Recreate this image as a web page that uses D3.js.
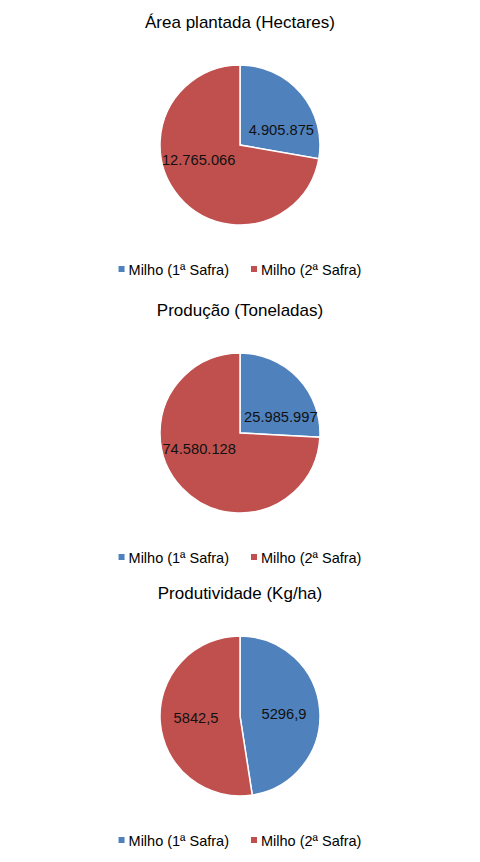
<!DOCTYPE html>
<html>
<head>
<meta charset="utf-8">
<script src="https://cdn.jsdelivr.net/npm/d3@7"></script>
<style>
  html, body { margin: 0; padding: 0; background: #fff; }
  svg { display: block; font-family: "Liberation Sans", Arial, sans-serif; }
</style>
</head>
<body>
<svg id="chart" width="480" height="862"></svg>
<script>
// ---- data ----
const categories = ["Milho (1ª Safra)", "Milho (2ª Safra)"];
const chartTitles = ["Área plantada (Hectares)", "Produção (Toneladas)", "Produtividade (Kg/ha)"];
const areaValues = [4905875, 12765066];
const producaoValues = [25985997, 74580128];
const produtividadeValues = [5296.9, 5842.5];
const colors = ["#4F81BD", "#C0504D"];

const ptBR = d3.formatLocale({ decimal: ",", thousands: ".", grouping: [3], currency: ["R$", ""] });
const fmtInt = ptBR.format(",d");
const fmtDec = ptBR.format(".1f");

const charts = [
  { title: chartTitles[0], values: areaValues, fmt: fmtInt, top: 0 },
  { title: chartTitles[1], values: producaoValues, fmt: fmtInt, top: 288 },
  { title: chartTitles[2], values: produtividadeValues, fmt: fmtDec, top: 571 }
];

const svg = d3.select("#chart");
const W = 480, cx = 240, R = 80;

const color = d3.scaleOrdinal().domain(categories).range(colors);
const pie = d3.pie().sort(null).value(d => d.value);
const arc = d3.arc().innerRadius(0).outerRadius(R);

charts.forEach(c => {
  const g = svg.append("g").attr("transform", `translate(0,${c.top})`);

  g.append("text")
    .attr("x", cx).attr("y", 28)
    .attr("text-anchor", "middle")
    .attr("font-size", 17)
    .attr("fill", "#000")
    .text(c.title);

  const data = categories.map((k, i) => ({ key: k, value: c.values[i] }));
  const arcs = pie(data);
  const pg = g.append("g").attr("transform", `translate(${cx},145)`);

  pg.selectAll("path").data(arcs).join("path")
    .attr("d", arc)
    .attr("fill", d => color(d.data.key))
    .attr("stroke", "#fff")
    .attr("stroke-width", 1.5);

  const labelR = 44;
  pg.selectAll("text.lbl").data(arcs).join("text")
    .attr("class", "lbl")
    .attr("transform", d => {
      const mid = (d.startAngle + d.endAngle) / 2;
      const target = mid < Math.PI ? Math.PI / 2 : 3 * Math.PI / 2;
      const a = mid + 0.5 * (target - mid);
      return `translate(${labelR * Math.sin(a)},${-labelR * Math.cos(a)})`;
    })
    .attr("text-anchor", "middle")
    .attr("dy", "0.35em")
    .attr("font-size", 14.7)
    .attr("fill", "#111")
    .text(d => c.fmt(d.data.value));

  // legend
  const lg = g.append("g").attr("transform", `translate(0,275)`);
  const items = lg.selectAll("g.item").data(categories).join("g").attr("class", "item");
  items.append("rect")
    .attr("y", -9).attr("width", 6).attr("height", 6)
    .attr("fill", d => color(d));
  items.append("text")
    .attr("x", 10).attr("y", 0)
    .attr("font-size", 14.5)
    .attr("fill", "#000")
    .text(d => d);
  let x = 0;
  const gap = 22;
  const widths = [];
  items.each(function () { widths.push(this.getBBox().width); });
  const total = d3.sum(widths) + gap * (widths.length - 1);
  x = cx - total / 2;
  items.attr("transform", (d, i) => {
    const t = `translate(${x},0)`;
    x += widths[i] + gap;
    return t;
  });
});
</script>
</body>
</html>
